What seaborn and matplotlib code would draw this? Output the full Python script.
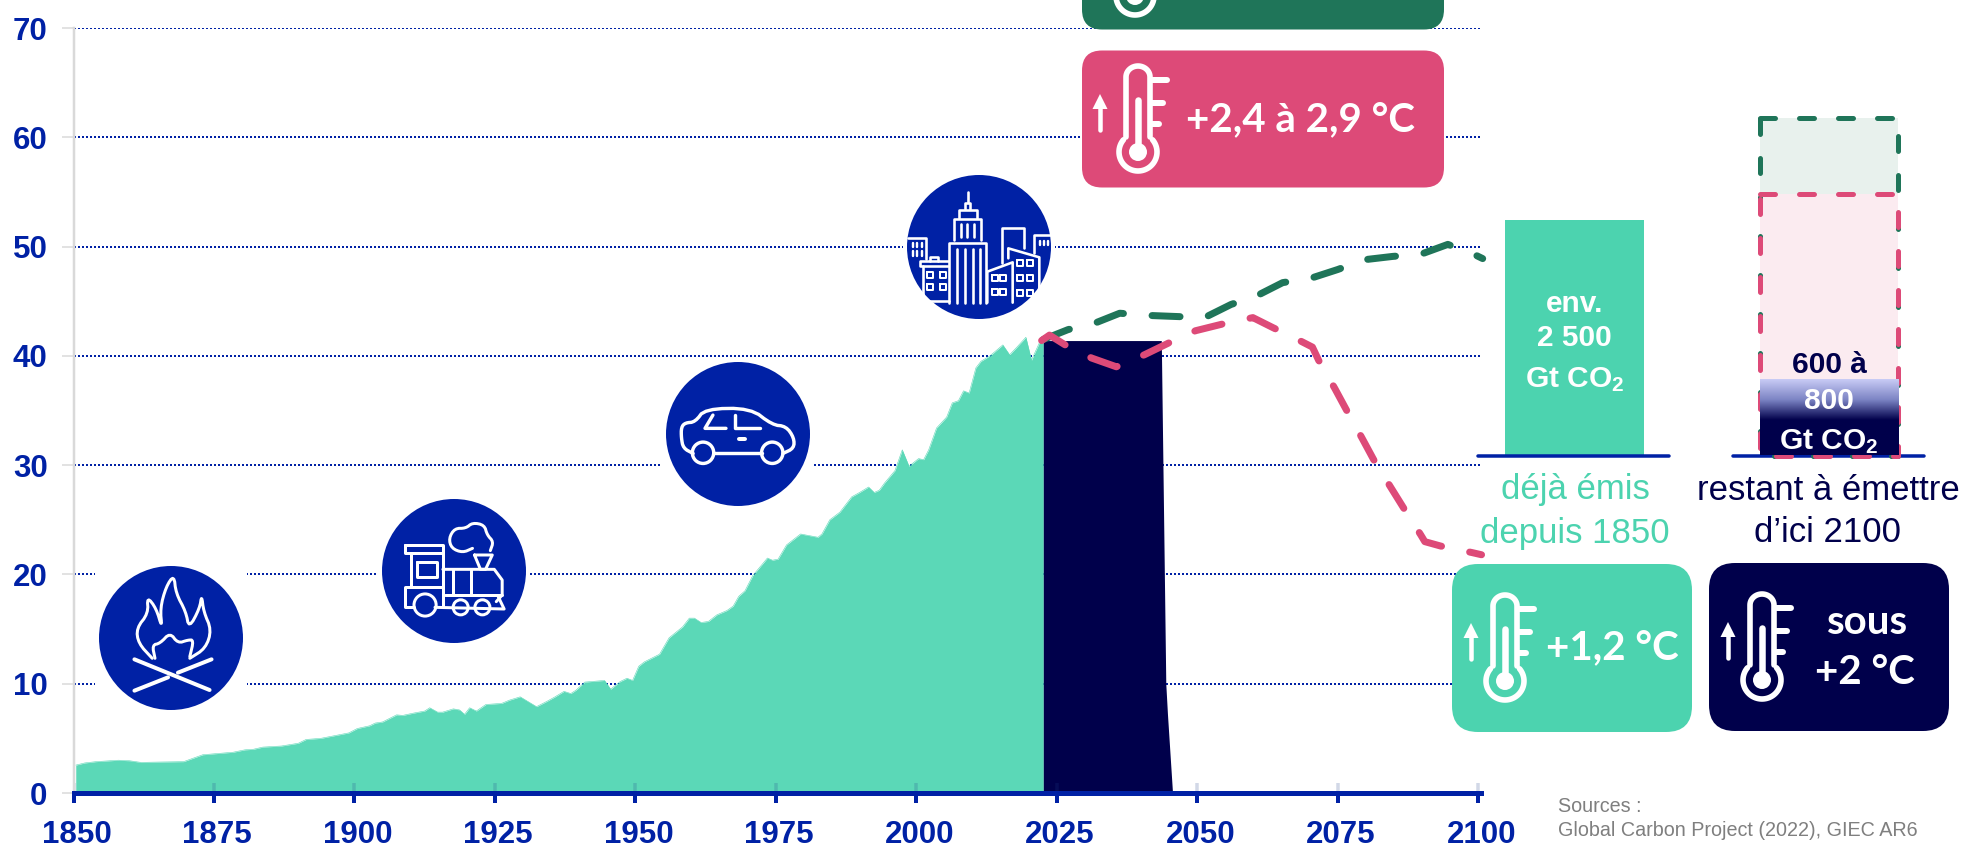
"""Emissions mondiales de CO2 : historique, scenarios et budget carbone."""

import matplotlib.pyplot as plt
import numpy as np
import seaborn as sns
from matplotlib.colors import LinearSegmentedColormap
from matplotlib.patches import Circle, FancyBboxPatch, Polygon, Rectangle
from matplotlib.transforms import ScaledTranslation

hist_years = [
    1850.4, 1852, 1854, 1858, 1860, 1862, 1866, 1869.6, 1873, 1878.4, 1880.5, 1882, 1883.7,
    1887, 1890, 1891.4, 1894, 1899, 1900.5, 1902.7, 1903.7, 1905, 1907.5, 1908.6, 1910.4,
    1912.5, 1913.4, 1914.8, 1915.7, 1917.6, 1918.7, 1919.6, 1920.5, 1921.7, 1923.4, 1926.2,
    1927.6, 1929.5, 1932.4, 1934.3, 1935.7, 1937.3, 1938.5, 1939.4, 1941, 1944.5, 1945.6,
    1947.3, 1948.5, 1949.5, 1950.6, 1951.6, 1954.3, 1956, 1958.4, 1959.6, 1960.5, 1961.7,
    1963, 1964.5, 1966.3, 1967.4, 1968.4, 1969.5, 1970.9, 1973.5, 1974.4, 1975.4, 1976.9,
    1979.4, 1982.5, 1983.2, 1984.6, 1986.4, 1988.5, 1989.9, 1991.5, 1992.5, 1993.4, 1994.4,
    1996.2, 1997.5, 1998.7, 2000.4, 2001.3, 2002.2, 2003.6, 2005.4, 2006.4, 2007.5, 2008.4,
    2009.4, 2010.6, 2011.5, 2013.1, 2015.4, 2016.6, 2017.9, 2019.5, 2020.5, 2021.9, 2022.6,
]
hist_values = [
    2.55, 2.75, 2.87, 3.0, 2.95, 2.8, 2.84, 2.87, 3.5, 3.73, 3.95, 4.0, 4.2,
    4.3, 4.55, 4.9, 5.0, 5.5, 5.9, 6.15, 6.4, 6.5, 7.15, 7.1, 7.3,
    7.5, 7.8, 7.4, 7.4, 7.7, 7.6, 7.2, 7.8, 7.5, 8.1, 8.2,
    8.5, 8.8, 7.9, 8.4, 8.8, 9.3, 9.1, 9.4, 10.15, 10.3, 9.5,
    10.2, 10.5, 10.3, 11.6, 12.0, 12.7, 14.2, 15.2, 16.0, 16.0, 15.6,
    15.7, 16.3, 16.7, 17.1, 18.0, 18.5, 19.9, 21.5, 21.3, 21.4, 22.7,
    23.7, 23.4, 23.7, 25.0, 25.7, 27.1, 27.5, 28.0, 27.5, 27.7, 28.4,
    29.5, 31.4, 29.9, 30.6, 30.5, 31.4, 33.4, 34.4, 35.7, 35.9, 36.8,
    36.6, 38.9, 39.5, 40.0, 41.0, 40.1, 40.8, 41.7, 39.6, 41.2, 41.3,
]
budget_years = [2022.6, 2043.6, 2044.4, 2044.7, 2045.6]
budget_values = [41.4, 41.4, 10.0, 7.2, 0.0]

green_years = [2022.6, 2027, 2031.8, 2036.2, 2041.3, 2046.3, 2051.3, 2056, 2060.6, 2065.2,
               2070.2, 2075, 2079.8, 2084.8, 2089.8, 2094.6, 2099.2, 2100.8]
green_values = [41.5, 42.4, 43.0, 43.9, 43.7, 43.6, 43.5, 44.7, 45.5, 46.7,
                47.1, 47.9, 48.8, 49.1, 49.3, 50.2, 49.3, 48.9]
pink_years = [2022.3, 2023.7, 2026.5, 2031.2, 2035.6, 2040.6, 2045, 2049.7, 2054.4, 2059.9,
              2063.4, 2068.6, 2070.5, 2071.6, 2074.5, 2076.6, 2079.3, 2081.4, 2084.4, 2086.7,
              2089.8, 2090.5, 2093.3, 2098.9, 2100.6]
pink_values = [41.4, 41.9, 41.0, 39.8, 39.0, 40.1, 41.2, 42.3, 42.9, 43.5,
               42.6, 41.3, 40.8, 39.6, 37.0, 35.0, 32.5, 30.5, 28.0, 26.1,
               23.6, 23.0, 22.6, 22.0, 21.8]

x_ticks = list(range(1850, 2101, 25))
y_ticks = list(range(0, 71, 10))

BLUE = "#0021A5"
TEAL = "#5BD8B7"
TEAL_DARK = "#4CD3AF"
NAVY = "#00004B"
GREEN = "#1F7559"
PINK = "#DD4A78"

W, H = 1965, 847
PX = 72 / 100  # points per pixel at dpi 100

sns.set_theme(style="white")
plt.rcParams["font.family"] = ["Liberation Sans", "DejaVu Sans"]
plt.rcParams["mathtext.fontset"] = "custom"
plt.rcParams["mathtext.bf"] = "Liberation Sans:bold"
plt.rcParams["mathtext.rm"] = "Liberation Sans"

fig = plt.figure(figsize=(W / 100, H / 100), dpi=100, facecolor="white")

# main axes: 1850 at px 73.5, 2100.5 at px 1481, 70 at py 28, 0 at py 793
ax = fig.add_axes([73.5 / W, (H - 793) / H, (1481 - 73.5) / W, (793 - 28) / H])
ax.set_xlim(1850, 2100.5)
ax.set_ylim(0, 70)

ax.fill_between(hist_years, hist_values, color=TEAL, linewidth=0, zorder=2)
ax.fill_between(budget_years, budget_values, color=NAVY, linewidth=0, zorder=2.1)
sns.lineplot(x=hist_years, y=hist_values, ax=ax, color=TEAL, linewidth=0.4,
             estimator=None, sort=False, zorder=2)

dash = (0, (4.0, 4.1))
sns.lineplot(x=green_years, y=green_values, ax=ax, color=GREEN, linewidth=7 * PX,
             linestyle=dash, dash_capstyle="round", estimator=None, sort=False,
             zorder=3, clip_on=False)
sns.lineplot(x=pink_years, y=pink_values, ax=ax, color=PINK, linewidth=7 * PX,
             linestyle=dash, dash_capstyle="round", estimator=None, sort=False,
             zorder=3.1, clip_on=False)

ax.set_xticks(x_ticks)
ax.set_yticks(y_ticks)
ax.grid(axis="y", color=BLUE, linewidth=2 * PX, linestyle=(0, (1, 1)), zorder=1)
ax.grid(axis="x", visible=False)
ax.set_axisbelow(True)
ax.vlines(x_ticks, 0, 0.9, color="#1F3F8A", alpha=0.2, linewidth=3.5 * PX, zorder=2.5)

for side in ("top", "right"):
    ax.spines[side].set_visible(False)
ax.spines["left"].set_color("#D9D9D9")
ax.spines["left"].set_linewidth(2.5 * PX)
ax.spines["bottom"].set_color(BLUE)
ax.spines["bottom"].set_linewidth(5 * PX)
ax.spines["bottom"].set_zorder(4)

ax.tick_params(axis="x", direction="out", length=10 * PX, width=4 * PX, color=BLUE, pad=12,
               labelsize=22.5, labelcolor=BLUE, bottom=True)
ax.tick_params(axis="y", direction="out", length=12 * PX, width=1.5 * PX, color="#D9D9D9", pad=10,
               labelsize=22.5, labelcolor=BLUE, left=True)
shift = ScaledTranslation(3 * PX / 72, 0, fig.dpi_scale_trans)
for lab in ax.get_xticklabels():
    lab.set_fontweight("bold")
    lab.set_transform(lab.get_transform() + shift)
for lab in ax.get_yticklabels():
    lab.set_fontweight("bold")

# overlay in reference pixels for the boxes, pictograms and side bars
ov = fig.add_axes([0, 0, 1, 1], zorder=5)
ov.set_xlim(0, W)
ov.set_ylim(H, 0)
ov.axis("off")


def stroke(pts, lw=2.6, color="white", z=8):
    pts = np.asarray(pts, dtype=float)
    ov.plot(pts[:, 0], pts[:, 1], color=color, lw=lw * PX, solid_capstyle="round",
            solid_joinstyle="round", zorder=z)


def chaikin(pts, rounds=2):
    pts = np.asarray(pts, dtype=float)
    for _ in range(rounds):
        left, right = pts[:-1], pts[1:]
        mid = np.empty((2 * len(left), 2))
        mid[0::2] = 0.75 * left + 0.25 * right
        mid[1::2] = 0.25 * left + 0.75 * right
        pts = np.vstack([pts[:1], mid, pts[-1:]])
    return pts


def zoom_stroke(pts, org, fx, fy, lw=2.6, smooth=False):
    pts = [(org[0] + a / fx, org[1] + b / fy) for a, b in pts]
    stroke(chaikin(pts) if smooth else pts, lw=lw)


def zoom_ring(cx, cy, r, org, fx, fy, lw=2.6):
    ov.add_patch(Circle((org[0] + cx / fx, org[1] + cy / fy), r / fx, fill=False,
                        ec="white", lw=lw * PX, zorder=8))


def disc(cx, cy):
    ov.add_patch(Rectangle((cx - 76, cy - 76), 152, 152, fc="white", ec="none", zorder=6))
    ov.add_patch(Circle((cx, cy), 72, fc=BLUE, ec="none", zorder=7))


def round_box(x0, y0, x1, y1, r, color):
    ov.add_patch(FancyBboxPatch((x0 + r, y0 + r), x1 - x0 - 2 * r, y1 - y0 - 2 * r,
                                boxstyle=f"round,pad={r},rounding_size={r}",
                                fc=color, ec="none", zorder=6))


def thermo(bx, by, arrow_dx=-38):
    lw = 5.6
    # bulb ring, open at the top where the stem joins
    arc = np.radians(np.linspace(-130, 130, 60)) - np.pi / 2
    ring_x = bx + 19 * np.cos(arc)
    ring_y = by - 19 * np.sin(arc)
    top = np.radians(np.linspace(0, 180, 24))
    path_x = np.concatenate([[bx + 12], bx + 12 * np.cos(top), [bx - 12]])
    path_y = np.concatenate([[by - 15], by - 75 - 11 * np.sin(top), [by - 15]])
    stroke(np.c_[ring_x, ring_y], lw=lw)
    stroke(np.c_[path_x, path_y], lw=lw)
    stroke([(bx, by - 52), (bx, by)], lw=6.5)
    ov.add_patch(Circle((bx, by), 9, fc="white", ec="none", zorder=8))
    for dy, dx in ((-72, 29), (-49, 25), (-28, 21)):
        stroke([(bx + 13, by + dy), (bx + dx, by + dy)], lw=6)
    ax_x = bx + arrow_dx
    stroke([(ax_x, by - 22), (ax_x, by - 46)], lw=4.5)
    ov.add_patch(Polygon([(ax_x, by - 58), (ax_x - 7.5, by - 43), (ax_x + 7.5, by - 43)],
                         fc="white", ec="none", zorder=8))


# campfire
disc(171, 638)
org, fx, fy = (0, 480), 2.529, 3
zoom_stroke([(340, 538), (530, 630)], org, fx, fy, lw=4)
zoom_stroke([(535, 538), (450, 578)], org, fx, fy, lw=4)
zoom_stroke([(425, 592), (340, 632)], org, fx, fy, lw=4)
zoom_stroke([(385, 535), (350, 490), (345, 445), (375, 400), (372, 350), (395, 385), (410, 445),
             (405, 385), (420, 320), (440, 285), (445, 340), (470, 395), (478, 445), (505, 385),
             (510, 345), (515, 395), (535, 450), (520, 505), (480, 535)], org, fx, fy, lw=3,
            smooth=True)
zoom_stroke([(392, 535), (385, 495), (405, 490), (430, 458), (450, 490), (475, 480), (490, 480),
             (480, 530)], org, fx, fy, lw=3, smooth=True)

# steam train
disc(454, 571)
zoom_stroke([(1025, 195), (1120, 195), (1120, 220), (1025, 220), (1025, 195)], org, fx, fy, lw=3)
zoom_stroke([(1040, 220), (1040, 320), (1025, 320), (1025, 380), (1048, 380)], org, fx, fy, lw=3)
zoom_stroke([(1040, 320), (1120, 320)], org, fx, fy, lw=3)
zoom_stroke([(1120, 220), (1120, 380)], org, fx, fy, lw=3)
zoom_stroke([(1055, 245), (1105, 245), (1105, 290), (1055, 290), (1055, 245)], org, fx, fy, lw=3)
zoom_stroke([(1120, 268), (1250, 268), (1270, 300), (1270, 345), (1255, 365)], org, fx, fy, lw=3)
zoom_stroke([(1125, 345), (1270, 345)], org, fx, fy, lw=3)
zoom_stroke([(1145, 268), (1145, 345)], org, fx, fy, lw=3)
zoom_stroke([(1190, 268), (1190, 345)], org, fx, fy, lw=3)
zoom_stroke([(1100, 382), (1275, 387), (1260, 350)], org, fx, fy, lw=3)
zoom_stroke([(1200, 225), (1245, 225), (1228, 268), (1215, 268), (1200, 225)], org, fx, fy, lw=3)
zoom_ring(1075, 375, 28, org, fx, fy, lw=3)
zoom_ring(1165, 382, 19, org, fx, fy, lw=3)
zoom_ring(1220, 382, 19, org, fx, fy, lw=3)
zoom_stroke([(1195, 205), (1170, 218), (1142, 205), (1135, 175), (1150, 145), (1178, 145),
             (1195, 128), (1225, 135), (1232, 165), (1248, 185), (1240, 212)], org, fx, fy, lw=3,
            smooth=True)

# car
disc(738, 434)
org, fx, fy = (620, 300), 2.529, 2.867
zoom_stroke([(185, 440), (160, 425), (155, 395), (155, 365), (165, 352), (190, 350), (215, 312),
             (330, 310), (385, 358), (420, 362), (440, 395), (440, 425), (412, 440)], org, fx, fy,
            lw=3.4, smooth=True)
zoom_stroke([(238, 440), (358, 440)], org, fx, fy, lw=3.4)
zoom_ring(210, 438, 27, org, fx, fy, lw=3.4)
zoom_ring(385, 438, 27, org, fx, fy, lw=3.4)
zoom_stroke([(235, 330), (215, 368), (268, 368)], org, fx, fy, lw=3.4)
zoom_stroke([(292, 330), (292, 368), (355, 368)], org, fx, fy, lw=3.4)
zoom_stroke([(300, 398), (315, 398)], org, fx, fy, lw=4)

# city
disc(979, 247)
org, fx, fy = (880, 160), 3, 3
zoom_stroke([(263, 95), (263, 125)], org, fx, fy)
zoom_stroke([(255, 147), (255, 128), (270, 128), (270, 147)], org, fx, fy)
zoom_stroke([(238, 175), (238, 150), (290, 150), (290, 175)], org, fx, fy)
zoom_stroke([(222, 240), (222, 178), (303, 178), (303, 240)], org, fx, fy)
zoom_stroke([(208, 430), (208, 248), (318, 248), (318, 430)], org, fx, fy)
for xv in (232, 255, 278, 300):
    zoom_stroke([(xv, 268), (xv, 428)], org, fx, fy)
for xv in (243, 262, 282):
    zoom_stroke([(xv, 192), (xv, 232)], org, fx, fy)
zoom_stroke([(365, 310), (365, 205), (432, 205), (432, 265)], org, fx, fy)
zoom_stroke([(385, 295), (385, 265), (478, 292), (478, 420)], org, fx, fy)
zoom_stroke([(322, 428), (322, 335), (398, 307), (398, 428)], org, fx, fy)
zoom_stroke([(463, 280), (463, 225), (512, 225)], org, fx, fy)
zoom_stroke([(85, 235), (138, 235), (138, 298)], org, fx, fy)
zoom_stroke([(205, 318), (120, 318), (120, 303), (205, 303)], org, fx, fy)
zoom_stroke([(128, 318), (128, 422), (206, 422)], org, fx, fy)
zoom_stroke([(150, 302), (150, 290), (175, 290), (175, 302)], org, fx, fy)
for wx, wy in [(142, 335), (180, 335), (142, 372), (180, 372), (335, 345), (360, 345), (335, 388),
               (360, 388), (410, 300), (442, 300), (410, 345), (442, 345), (410, 390), (442, 390)]:
    zoom_stroke([(wx, wy), (wx + 18, wy), (wx + 18, wy + 18), (wx, wy + 18), (wx, wy)], org, fx, fy, lw=2)
for wx in (98, 112, 126):
    zoom_stroke([(wx, 250), (wx, 262)], org, fx, fy, lw=2.4)
    zoom_stroke([(wx, 273), (wx, 288)], org, fx, fy, lw=2.4)
for wx in (480, 492, 505):
    zoom_stroke([(wx, 243), (wx, 256)], org, fx, fy, lw=2.4)

# scenario boxes
round_box(1082, -40, 1444, 29.5, 20, GREEN)
thermo(1135, -4)
round_box(1082, 50.5, 1444, 187.5, 20, PINK)
thermo(1138, 152)
round_box(1452, 564, 1692, 732, 26, TEAL_DARK)
thermo(1505, 681, arrow_dx=-34)
round_box(1709, 563, 1949, 731, 26, NAVY)
thermo(1762, 680, arrow_dx=-34)

box_font = {"family": "Lato", "fontweight": "bold", "color": "white", "ha": "center",
            "va": "center", "zorder": 9}
ov.text(1300, 120, "+2,4 à 2,9 °C", fontsize=29, **box_font)
ov.text(1612, 648, "+1,2 °C", fontsize=29, **box_font)
ov.text(1868, 623, "sous", fontsize=29, **box_font)
ov.text(1865, 673, "+2 °C", fontsize=29, **box_font)

# budget bars
ov.add_patch(Rectangle((1505, 220), 139, 235, fc=TEAL_DARK, ec="none", zorder=6))
stroke([(1478, 456), (1669, 456)], lw=3.5, color=BLUE, z=6.5)
stroke([(1733, 456), (1924, 456)], lw=3.5, color=BLUE, z=6.1)

ov.add_patch(Rectangle((1760, 118), 138, 338, fc="#E8F1ED", ec="none", zorder=5.5))
ov.add_patch(Rectangle((1760, 194), 138, 262, fc="#FBEBF0", ec="none", zorder=5.6))
box_dash = (0, (3.0, 4.8))
for color, top, z in ((GREEN, 118, 6.2), (PINK, 194, 6.3)):
    ov.plot([1760, 1898, 1898, 1760, 1760], [top, top, 456, 456, top], color=color, lw=5 * PX,
            linestyle=box_dash, dash_capstyle="round", zorder=z)

cmap = LinearSegmentedColormap.from_list(
    "budget", [(0, "#C8CBF5"), (0.27, "#7C84C4"), (0.54, NAVY), (1, NAVY)], N=128)
ov.imshow(np.linspace(0, 1, 128)[:, None], cmap=cmap, extent=(1760, 1899, 455, 379),
          aspect="auto", zorder=6.6)
ov.set_xlim(0, W)
ov.set_ylim(H, 0)

bar_font = {"fontweight": "bold", "ha": "center", "va": "center", "fontsize": 21.5, "zorder": 9}
ov.text(1574.5, 304, "env.", color="white", **bar_font)
ov.text(1574.5, 338, "2 500", color="white", **bar_font)
ov.text(1574.5, 380, r"Gt CO$\mathbf{_2}$", color="white", **bar_font)
ov.text(1829, 365, "600 à", color=NAVY, **bar_font)
ov.text(1829, 401, "800", color="white", **bar_font)
ov.text(1829, 442, r"Gt CO$\mathbf{_2}$", color="white", **bar_font)

label_font = {"ha": "center", "va": "center", "fontsize": 25, "zorder": 9}
ov.text(1575, 490, "déjà émis", color=TEAL_DARK, **label_font)
ov.text(1575, 533, "depuis 1850", color=TEAL_DARK, **label_font)
ov.text(1828, 490, "restant à émettre", color=NAVY, **label_font)
ov.text(1828, 533, "d’ici 2100", color=NAVY, **label_font)

ov.text(1558, 807, "Sources :", color="#7F7F7F", fontsize=14.2, ha="left", va="center")
ov.text(1558, 831, "Global Carbon Project (2022), GIEC AR6", color="#7F7F7F", fontsize=14.2,
        ha="left", va="center")

fig.savefig("out.png", dpi=100)
